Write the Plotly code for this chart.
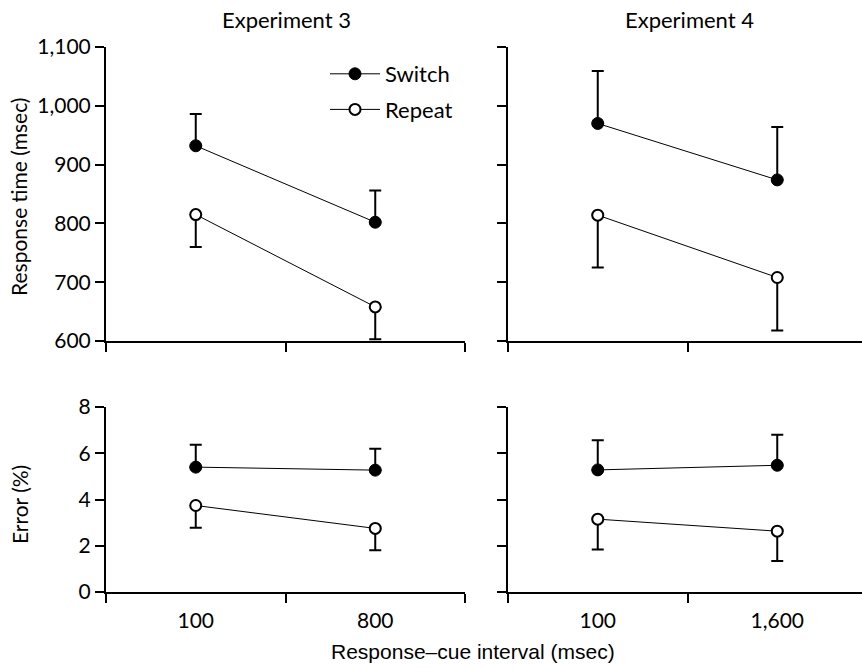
import plotly.graph_objects as go

# ---------------- data ----------------
rci_exp3 = ["100", "800"]
rci_exp4 = ["100", "1,600"]

rt3_switch = [932, 802]
rt3_switch_err = [54, 54]
rt3_repeat = [815, 658]
rt3_repeat_err = [55, 55]

rt4_switch = [970, 874]
rt4_switch_err = [89, 90]
rt4_repeat = [814, 708]
rt4_repeat_err = [89, 90]

er3_switch = [5.40, 5.27]
er3_switch_err = [0.97, 0.92]
er3_repeat = [3.74, 2.75]
er3_repeat_err = [0.96, 0.94]

er4_switch = [5.28, 5.48]
er4_switch_err = [1.28, 1.32]
er4_repeat = [3.15, 2.63]
er4_repeat_err = [1.31, 1.29]

rt_ticks = [600, 700, 800, 900, 1000, 1100]
err_ticks = [0, 2, 4, 6, 8]

FONT = "Lato"
TFONT = "Liberation Sans"

def pos(cats):
    return [2 * i + 1 for i in range(len(cats))]

fig = go.Figure()

panels = [
    ("x", "y", rci_exp3, rt3_switch, rt3_switch_err, rt3_repeat, rt3_repeat_err, True),
    ("x2", "y2", rci_exp4, rt4_switch, rt4_switch_err, rt4_repeat, rt4_repeat_err, False),
    ("x3", "y3", rci_exp3, er3_switch, er3_switch_err, er3_repeat, er3_repeat_err, False),
    ("x4", "y4", rci_exp4, er4_switch, er4_switch_err, er4_repeat, er4_repeat_err, False),
]

for xa, ya, cats, sw, swe, rp, rpe, leg in panels:
    xs = pos(cats)
    fig.add_trace(go.Scatter(
        x=xs, y=sw, xaxis=xa, yaxis=ya, mode="lines+markers", name="Switch",
        legendgroup="sw", showlegend=leg,
        line=dict(color="black", width=1),
        marker=dict(symbol="circle", size=12, color="black", line=dict(color="black", width=1)),
        error_y=dict(type="data", symmetric=False, array=swe, arrayminus=[0] * len(swe),
                     color="black", thickness=2, width=6),
    ))
    fig.add_trace(go.Scatter(
        x=xs, y=rp, xaxis=xa, yaxis=ya, mode="lines+markers", name="Repeat",
        legendgroup="rp", showlegend=leg,
        line=dict(color="black", width=1),
        marker=dict(symbol="circle", size=11, color="white", line=dict(color="black", width=2)),
        error_y=dict(type="data", symmetric=False, array=[0] * len(rpe), arrayminus=rpe,
                     color="black", thickness=2, width=6),
    ))

W, H = 862, 668
def px_x(a, b):
    return [a / W, b / W]
def px_y(top, bot):
    return [1 - bot / H, 1 - top / H]

common_x = dict(showgrid=False, zeroline=False, showline=True, linecolor="black", linewidth=2,
                automargin=False, ticks="", ticklen=0, ticklabelstandoff=9,
                minor=dict(tickvals=[0, 2, 4], ticks="outside", ticklen=9, tickwidth=2, tickcolor="black"),
                tickfont=dict(family=FONT, size=21, color="black"))
common_y = dict(showgrid=False, zeroline=False, showline=True, linecolor="black", linewidth=2,
                automargin=False, ticks="outside", ticklen=9, tickwidth=2, tickcolor="black",
                tickfont=dict(family=FONT, size=21, color="black"))

top_dom = px_y(47, 341)
bot_dom = px_y(407, 592)
left_dom = px_x(106, 465)
right_dom = px_x(508, 862)
right_range = [0, 4 * (862 - 508) / 359]

def ann(text, x, y, size, family=FONT, angle=0):
    return dict(text=text, x=x / W, y=1 - y / H, xref="paper", yref="paper",
                xanchor="center", yanchor="middle", textangle=angle, showarrow=False,
                font=dict(family=family, size=size, color="black"))

fig.update_layout(
    width=W, height=H, margin=dict(l=0, r=0, t=0, b=0, autoexpand=False),
    paper_bgcolor="white", plot_bgcolor="white",
    xaxis=dict(common_x, domain=left_dom, range=[0, 4], anchor="y",
               tickvals=pos(rci_exp3), ticktext=rci_exp3, showticklabels=False),
    yaxis=dict(common_y, domain=top_dom, range=[600, 1100], anchor="x",
               tickvals=rt_ticks, tickformat=","),
    xaxis2=dict(common_x, domain=right_dom, range=right_range, anchor="y2",
                tickvals=pos(rci_exp4), ticktext=rci_exp4, showticklabels=False),
    yaxis2=dict(common_y, domain=top_dom, range=[600, 1100], anchor="x2",
                tickvals=rt_ticks, showticklabels=False),
    xaxis3=dict(common_x, domain=left_dom, range=[0, 4], anchor="y3",
                tickvals=pos(rci_exp3), ticktext=rci_exp3),
    yaxis3=dict(common_y, domain=bot_dom, range=[0, 8], anchor="x3", tickvals=err_ticks),
    xaxis4=dict(common_x, domain=right_dom, range=right_range, anchor="y4",
                tickvals=pos(rci_exp4), ticktext=rci_exp4),
    yaxis4=dict(common_y, domain=bot_dom, range=[0, 8], anchor="x4",
                tickvals=err_ticks, showticklabels=False),
    showlegend=True,
    legend=dict(x=325 / W, y=1 - 53 / H, xanchor="left", yanchor="top",
                font=dict(family=FONT, size=22, color="black"),
                bgcolor="rgba(0,0,0,0)", tracegroupgap=4, itemwidth=50),
    annotations=[
        ann("Experiment 3", 286, 19, 22),
        ann("Experiment 4", 689, 19, 22),
        ann("Response time (msec)", 19, 197, 21, angle=-90),
        ann("Error (%)", 19, 505, 21, angle=-90),
        ann("Response–cue interval (msec)", 473, 651, 21, family=TFONT),
    ],
)

fig.write_html("out.html", config={"displayModeBar": False},
               post_script="document.body.style.margin='0';document.body.style.overflow='hidden';")
